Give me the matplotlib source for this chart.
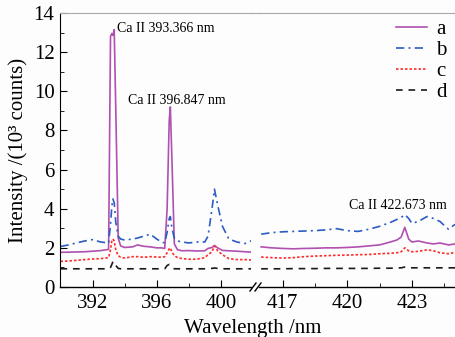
import matplotlib
matplotlib.use("Agg")
import matplotlib.pyplot as plt
from matplotlib.lines import Line2D

plt.rcParams['font.family'] = ['Liberation Serif', 'DejaVu Serif']

# wavelength grids (nm) for the two pieces of the broken axis
wl_left = [390.0, 390.5, 391.0, 391.5, 392.0, 392.5, 393.0, 393.12, 393.2, 393.27,
           393.35, 393.45, 393.6, 393.75, 394.0, 394.5, 394.8, 395.2, 395.6, 396.0,
           396.3, 396.5, 396.65, 396.78, 396.85, 396.95, 397.1, 397.3, 397.6, 398.0,
           398.5, 399.0, 399.2, 399.45, 399.6, 399.8, 400.1, 400.5, 401.0, 401.5,
           401.9]
wl_right = [416.0, 416.5, 417.0, 417.5, 418.0, 418.5, 419.0, 419.5, 420.0, 420.5,
            421.0, 421.5, 422.0, 422.3, 422.5, 422.67, 422.85, 423.0, 423.3, 423.7,
            424.0, 424.3, 424.7, 425.0]

# intensities (10^3 counts)
a_left = [1.77, 1.78, 1.79, 1.80, 1.83, 1.86, 1.92, 12.8, 12.95, 12.85,
          13.15, 9.0, 2.5, 2.1, 2.02, 2.05, 2.15, 2.08, 2.05, 2.0,
          2.0, 1.97, 4.0, 8.5, 9.2, 6.5, 2.2, 1.9, 1.85, 1.86,
          1.84, 1.85, 1.97, 2.02, 2.12, 2.0, 1.87, 1.85, 1.83, 1.8,
          1.78]
b_left = [2.07, 2.15, 2.25, 2.35, 2.42, 2.3, 2.25, 3.2, 4.1, 4.5,
          4.3, 3.3, 2.6, 2.45, 2.4, 2.45, 2.5, 2.6, 2.7, 2.45,
          2.3, 2.25, 2.8, 3.5, 3.6, 3.0, 2.5, 2.35, 2.3, 2.25,
          2.3, 2.3, 2.6, 4.0, 5.0, 4.2, 3.1, 2.45, 2.3, 2.22,
          2.36]
c_left = [1.31, 1.33, 1.36, 1.40, 1.43, 1.45, 1.5, 1.9, 2.35, 2.45,
          2.35, 1.9, 1.6, 1.52, 1.48, 1.55, 1.55, 1.52, 1.55, 1.53,
          1.52, 1.55, 1.75, 1.95, 2.0, 1.8, 1.6, 1.5, 1.45, 1.42,
          1.42, 1.5, 1.65, 1.8, 2.1, 1.85, 1.65, 1.45, 1.4, 1.4,
          1.38]
d_left = [0.93, 0.93, 0.93, 0.93, 0.93, 0.93, 0.93, 1.0, 1.15, 1.3,
          1.3, 1.1, 0.95, 0.93, 0.93, 0.93, 0.93, 0.93, 0.93, 0.93,
          0.93, 0.93, 1.1, 1.15, 1.08, 1.0, 0.93, 0.93, 0.93, 0.93,
          0.93, 0.93, 0.94, 0.95, 0.97, 0.95, 0.93, 0.93, 0.93, 0.93,
          0.93]

a_right = [2.05, 2.0, 1.97, 1.95, 1.97, 1.98, 2.0, 2.0, 2.02, 2.05,
           2.1, 2.15, 2.3, 2.4, 2.55, 3.05, 2.45, 2.3, 2.35, 2.25,
           2.2, 2.25, 2.15, 2.2]
b_right = [2.7, 2.78, 2.82, 2.84, 2.86, 2.88, 2.92, 2.98, 2.88, 2.84,
           2.95, 3.1, 3.3, 3.45, 3.55, 3.7, 3.5, 3.25, 3.35, 3.6,
           3.5, 3.35, 2.95, 3.2]
c_right = [1.53, 1.5, 1.48, 1.5, 1.55, 1.58, 1.6, 1.62, 1.63, 1.65,
           1.66, 1.7, 1.72, 1.75, 1.8, 2.0, 1.85, 1.8, 1.82, 1.9,
           1.85, 1.75, 1.7, 1.77]
d_right = [0.93, 0.93, 0.93, 0.94, 0.94, 0.94, 0.95, 0.95, 0.95, 0.95,
           0.95, 0.96, 0.96, 0.97, 0.98, 1.02, 1.0, 0.98, 0.98, 0.98,
           0.98, 0.98, 0.98, 0.98]

labels = ['a', 'b', 'c', 'd']
colors = ['#b050b0', '#2a5cc4', '#ff2a2a', '#1a1a1a']
dash_styles = [None, (5, 2.5, 1.2, 2.5), (1.5, 1.2), (4, 3.5)]

W, H = 455, 337
fig = plt.figure(figsize=(W / 100, H / 100), dpi=100)
fig.patch.set_facecolor('#fdfdfd')

bottom = (H - 287) / H
height = (287 - 13) / H
ax1 = fig.add_axes([60 / W, bottom, (251 - 60) / W, height])
ax2 = fig.add_axes([259 / W, bottom, (W - 259) / W, height])

series_left = [a_left, b_left, c_left, d_left]
series_right = [a_right, b_right, c_right, d_right]
handles = []
for vals_l, vals_r, col, ds, lab in zip(series_left, series_right, colors, dash_styles, labels):
    for ax, x, y in ((ax1, wl_left, vals_l), (ax2, wl_right, vals_r)):
        line, = ax.plot(x, y, color=col, lw=1.2)
        if ds is not None:
            line.set_dashes(ds)
    h = Line2D([], [], color=col, lw=1.2)
    if ds is not None:
        h.set_dashes(ds)
    handles.append(h)

ax1.set_xlim(389.97, 401.88)
ax2.set_xlim(415.9, 425.0)
for ax in (ax1, ax2):
    ax.set_ylim(0, 14)
    ax.set_facecolor('#fdfdfd')
    ax.spines['right'].set_visible(False)
    ax.spines['top'].set_color('#a8a8a8')
    ax.spines['bottom'].set_linewidth(1.0)
    ax.tick_params(which='both', direction='in', labelsize=15, top=False, right=False)
    ax.tick_params(which='major', length=5, pad=5)
    ax.tick_params(which='minor', length=3)

ax1.set_xticks([392, 396, 400])
ax1.set_xticks([394, 398], minor=True)
ax1.set_yticks(range(0, 15, 2))
ax1.set_yticks(range(1, 15, 2), minor=True)
ax1.tick_params(axis='y', pad=4)
ax1.set_ylabel('Intensity /(10³ counts)', fontsize=15, labelpad=4)

ax2.set_xticks([417, 420, 423])
ax2.set_xticks([418.5, 421.5, 424.5], minor=True)
ax2.spines['left'].set_visible(False)
ax2.tick_params(axis='y', which='both', left=False, labelleft=False)

# top frame runs across the break
fig.add_artist(Line2D([250 / W, 260 / W], [(H - 13) / H, (H - 13) / H],
                      color='#a8a8a8', lw=0.8))
# break marks on the x axis
for x0 in (250, 255):
    fig.add_artist(Line2D([x0 / W, (x0 + 6) / W], [(H - 291) / H, (H - 283) / H],
                          color='black', lw=1.0))

ax1.text(393.5, 13.2, 'Ca II 393.366 nm', fontsize=10, va='center', ha='left')
ax1.text(394.2, 9.55, 'Ca II 396.847 nm', fontsize=10, va='center', ha='left')
ax2.text(420.1, 4.15, 'Ca II 422.673 nm', fontsize=10, va='center', ha='left')

fig.text(253 / W, 4 / H, 'Wavelength /nm', fontsize=15, ha='center', va='baseline')

ax2.legend(handles, labels, loc='upper right', frameon=False, fontsize=15,
           handlelength=1.5, handletextpad=0.45, labelspacing=0.06,
           borderaxespad=0.0, borderpad=0.2, bbox_to_anchor=(0.98, 0.99))

fig.savefig('out.png', dpi=100, facecolor=fig.get_facecolor())
